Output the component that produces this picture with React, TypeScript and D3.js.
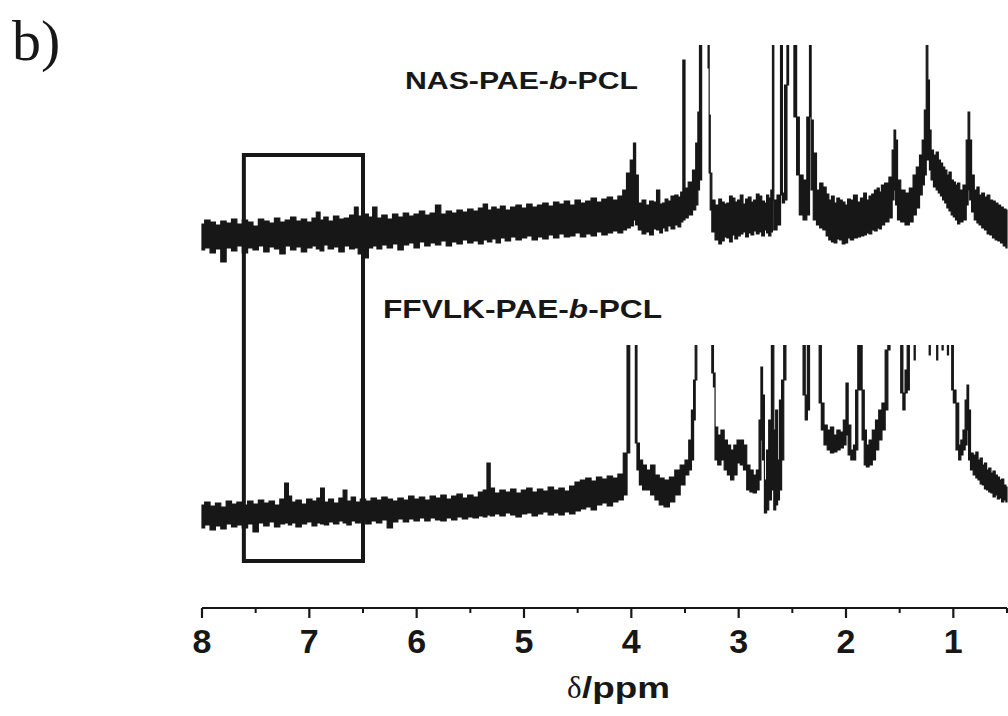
import React from 'react';
import * as d3 from 'd3';

type Pt = [number, number, number]; // [ppm, upper envelope, lower envelope] (a.u.)

// NAS-PAE-b-PCL (upper spectrum) — envelope of the noisy trace
const nasTrace: Pt[] = [
  [8.00,16,-10],[7.95,20,-8],[7.90,18,-13],[7.85,15,-9],[7.80,19,-22],[7.75,17,-8],[7.70,21,-11],[7.65,16,-6],
  [7.60,20,-13],[7.55,18,-8],[7.50,14,-10],[7.45,21,-6],[7.40,19,-12],[7.35,17,-7],[7.30,22,-9],[7.25,18,-14],
  [7.20,20,-6],[7.15,23,-10],[7.10,19,-7],[7.05,21,-12],[7.00,18,-8],[6.95,22,-6],[6.92,28,-9],[6.88,20,-11],
  [6.85,23,-5],[6.80,19,-9],[6.75,24,-7],[6.70,21,-12],[6.65,22,-6],[6.60,25,-9],[6.56,33,-8],[6.53,24,-14],
  [6.50,21,-10],[6.47,26,-18],[6.43,23,-8],[6.39,33,-6],[6.35,22,-9],[6.30,25,-5],[6.25,21,-8],[6.20,26,-4],
  [6.15,23,-10],[6.10,27,-5],[6.05,24,-3],[6.00,26,-8],[5.95,29,-2],[5.90,25,-6],[5.85,27,-3],[5.80,35,-5],
  [5.75,26,-1],[5.70,29,-6],[5.65,27,-2],[5.60,30,-4],[5.55,28,0],[5.50,31,-3],[5.45,29,-1],[5.40,32,-4],
  [5.36,36,0],[5.32,30,-2],[5.28,33,1],[5.24,31,-3],[5.20,34,2],[5.15,30,-1],[5.10,33,3],[5.05,35,0],
  [5.00,32,2],[4.95,36,4],[4.90,33,0],[4.85,35,3],[4.80,37,1],[4.75,34,5],[4.70,38,2],[4.65,36,6],
  [4.60,39,3],[4.55,35,4],[4.50,40,7],[4.45,37,3],[4.40,39,6],[4.35,42,4],[4.30,38,8],[4.25,41,5],
  [4.20,43,7],[4.15,40,9],[4.10,44,7],[4.06,50,10],[4.03,67,12],[3.99,80,14],[3.97,97,20],[3.95,65,15],
  [3.92,37,10],[3.88,40,6],[3.85,35,8],[3.81,39,5],[3.78,38,11],[3.75,50,10],[3.72,36,7],[3.70,37,12],
  [3.67,41,9],[3.65,39,14],[3.61,44,11],[3.58,45,15],[3.55,43,13],[3.53,48,18],
  [3.51,180,20],[3.49,52,22],[3.45,58,25],[3.41,70,30],[3.39,97,35],[3.37,128,50],[3.36,300,60],[3.33,300,300],
  [3.29,300,300],[3.28,300,172],[3.27,125,67],[3.26,67,30],[3.24,40,8],[3.20,35,0],[3.17,41,-4],[3.15,38,-1],
  [3.12,36,3],[3.10,37,2],[3.07,44,-2],[3.05,42,5],[3.02,38,1],[3.00,40,4],[2.97,45,6],[2.95,36,8],
  [2.92,41,3],[2.90,43,7],[2.87,38,5],[2.85,40,9],[2.82,46,6],[2.80,44,8],[2.77,39,4],[2.75,37,10],
  [2.73,45,7],[2.71,42,4],
  [2.69,50,8],[2.68,300,40],[2.665,40,10],[2.62,45,15],[2.60,300,45],[2.585,47,37],[2.56,155,40],[2.54,300,155],
  [2.53,300,300],[2.50,300,300],[2.47,300,123],[2.45,123,65],[2.42,65,25],[2.38,60,20],[2.35,123,25],[2.33,300,123],
  [2.32,120,50],[2.29,87,20],[2.26,50,15],[2.23,57,12],[2.20,53,10],[2.17,46,4],[2.15,40,0],[2.12,44,-2],
  [2.10,37,-3],[2.07,42,1],[2.05,40,0],[2.02,38,-4],[2.00,35,-3],[1.97,41,2],
  [1.95,40,0],[1.91,45,2],[1.88,38,3],[1.85,42,4],[1.82,47,5],[1.80,40,7],[1.77,44,6],[1.75,46,10],
  [1.72,50,9],[1.70,52,12],[1.68,48,11],[1.66,55,15],
  [1.62,57,18],[1.58,63,22],[1.56,90,40],[1.545,110,50],[1.53,100,35],[1.51,60,20],[1.47,50,18],[1.43,47,15],
  [1.39,52,18],[1.36,65,25],[1.33,73,32],[1.30,85,45],[1.28,100,55],[1.26,130,65],[1.245,198,80],[1.23,160,80],
  [1.215,110,70],[1.20,90,60],[1.17,85,53],[1.15,88,50],[1.13,80,47],[1.11,77,44],[1.09,73,40],[1.07,70,37],
  [1.05,65,32],[1.03,68,29],[1.01,60,25],[0.99,58,23],[0.97,55,20],[0.95,57,16],
  [0.93,50,18],[0.89,55,20],[0.87,100,35],[0.855,128,50],[0.84,100,40],[0.82,65,28],[0.79,50,20],[0.77,53,17],
  [0.75,45,15],[0.72,47,12],[0.70,43,10],[0.67,45,6],[0.65,40,5],[0.62,39,2],[0.60,37,0],[0.57,35,-1],
  [0.55,33,-3],[0.52,31,-6],[0.50,30,-8],
];

// FFVLK-PAE-b-PCL (lower spectrum)
const ffvlkTrace: Pt[] = [
  [8.00,15,-8],[7.95,18,-5],[7.90,14,-10],[7.85,17,-6],[7.80,13,-9],[7.75,19,-4],[7.70,16,-7],[7.65,18,-5],
  [7.60,15,-8],[7.55,19,-4],[7.50,16,-12],[7.45,20,-3],[7.40,17,-6],[7.35,19,-2],[7.30,15,-7],[7.25,21,-4],
  [7.21,37,-3],[7.18,24,-5],[7.15,18,-3],[7.10,20,-7],[7.05,16,-4],[7.00,21,-2],[6.95,19,-6],[6.91,22,-3],
  [6.88,32,-4],[6.84,18,-5],[6.80,21,-2],[6.75,17,-4],[6.70,22,-1],[6.67,30,-3],[6.63,19,-5],[6.59,23,-1],
  [6.55,18,-3],[6.50,21,0],[6.45,19,-4],[6.40,22,-1],[6.35,20,-3],[6.30,23,0],[6.25,21,-8],[6.20,19,-2],
  [6.15,22,1],[6.10,20,-2],[6.05,24,1],[6.00,21,-1],[5.95,23,2],[5.90,20,-1],[5.85,24,2],[5.80,22,0],
  [5.75,25,-1],[5.70,21,2],[5.65,24,0],[5.60,26,3],[5.55,22,1],[5.50,25,3],[5.45,23,2],[5.40,28,4],
  [5.36,30,3],[5.33,57,5],[5.30,32,4],[5.25,27,6],[5.20,30,4],[5.15,28,7],[5.10,31,5],[5.05,27,3],
  [5.00,30,6],[4.95,32,7],[4.90,28,4],[4.85,31,6],[4.80,29,8],[4.75,33,5],[4.70,30,7],[4.65,32,5],
  [4.60,29,8],[4.55,34,6],[4.50,38,9],[4.45,40,11],[4.40,42,13],[4.35,39,10],[4.30,43,15],[4.25,41,17],
  [4.20,44,14],[4.15,42,18],[4.10,46,20],[4.05,67,25],[4.03,300,67],[4.00,300,300],
  [3.97,300,300],[3.955,300,77],[3.94,77,50],[3.91,60,35],[3.88,55,30],[3.84,50,30],[3.80,55,25],[3.76,45,20],
  [3.72,42,15],[3.67,40,13],[3.62,43,18],[3.57,50,25],[3.52,55,35],[3.48,60,45],[3.45,80,50],[3.43,110,60],
  [3.41,140,100],[3.40,300,140],[3.38,300,300],[3.26,300,300],[3.24,300,147],[3.23,147,133],[3.21,93,60],[3.18,85,55],
  [3.15,90,60],[3.12,80,50],[3.09,75,45],[3.06,70,40],[3.03,75,45],[3.00,80,57],[2.97,80,55],[2.94,75,50],
  [2.91,55,30],[2.88,50,28],[2.85,45,27],[2.82,50,30],[2.80,100,40],[2.785,153,80],[2.77,125,60],[2.75,40,7],
  [2.73,70,10],[2.71,100,20],[2.68,300,30],[2.665,90,10],[2.645,110,15],[2.63,60,20],[2.61,120,30],[2.59,140,60],
  [2.57,300,140],[2.55,300,300],[2.41,300,300],[2.39,300,125],[2.37,125,100],[2.35,300,110],[2.33,300,300],[2.26,300,300],
  [2.24,300,117],[2.22,117,90],[2.19,95,75],[2.16,90,70],[2.13,93,67],[2.10,85,68],[2.07,90,70],[2.04,88,72],
  [2.01,100,75],[1.99,137,85],[1.97,95,65],[1.94,70,60],[1.92,75,60],[1.90,130,70],[1.88,300,130],[1.86,300,130],
  [1.84,130,80],[1.82,90,55],[1.80,75,53],[1.77,80,55],[1.74,90,60],[1.71,100,70],[1.68,110,80],[1.65,117,90],
  [1.62,170,110],[1.60,300,170],[1.58,300,300],[1.50,300,300],[1.48,300,127],[1.46,127,110],[1.44,150,127],[1.42,300,130],
  [1.40,300,300],[1.37,300,300],[1.36,300,160],[1.35,300,300],[1.23,300,300],[1.22,300,165],[1.21,300,300],[1.16,300,300],
  [1.15,300,160],[1.14,300,300],[1.11,300,300],[1.10,300,170],[1.09,300,300],[1.06,300,300],[1.05,300,165],[1.04,300,300],
  [1.02,300,300],[1.01,300,130],[0.99,130,117],[0.96,117,70],[0.94,75,60],[0.92,80,65],[0.90,90,70],[0.88,120,75],
  [0.865,135,90],[0.85,110,60],[0.83,67,50],[0.80,65,45],[0.78,68,42],[0.76,60,40],[0.74,62,36],[0.72,55,35],
  [0.70,57,31],[0.68,50,30],[0.66,52,28],[0.64,47,27],[0.62,49,23],[0.60,45,25],[0.58,43,21],[0.56,40,22],
  [0.54,41,18],[0.52,35,20],[0.50,33,18],
];

const majorTicks = [8, 7, 6, 5, 4, 3, 2, 1];
const minorTicks = [7.5, 6.5, 5.5, 4.5, 3.5, 2.5, 1.5, 0.5];
const xDomain: [number, number] = [8, 0.5];
const highlightRange: [number, number] = [7.61, 6.5];

const INK = '#171717';

export default function App() {
  const W = 1008;
  const H = 716;
  const x = d3.scaleLinear().domain(xDomain).range([202, 1007]);
  const yTop = d3.scaleLinear().domain([0, 100]).range([240, 140]);
  const yBot = d3.scaleLinear().domain([0, 100]).range([520, 420]);
  const mk = (y: d3.ScaleLinear<number, number>) =>
    d3.area<Pt>().x((d) => x(d[0])).y0((d) => y(d[2])).y1((d) => y(d[1])).curve(d3.curveStep);
  const topPath = mk(yTop)(nasTrace) || '';
  const botPath = mk(yBot)(ffvlkTrace) || '';
  const axisY = 608;

  return (
    <svg width={W} height={H} style={{ position: 'absolute', left: 0, top: 0, background: '#fff' }}>
      <defs>
        <clipPath id="clipTop"><rect x={0} y={45} width={W} height={300} /></clipPath>
        <clipPath id="clipBot"><rect x={0} y={345} width={W} height={300} /></clipPath>
      </defs>
      <text x={12} y={60} fontFamily="'Liberation Serif', 'Times New Roman', serif" fontSize={58} fill={INK}>b)</text>

      <text x={405} y={89} fontFamily="'Liberation Sans', Arial, sans-serif" fontWeight="bold" fontSize={24}
        textLength={233} lengthAdjust="spacingAndGlyphs" fill={INK}>
        NAS-PAE-<tspan fontStyle="italic">b</tspan>-PCL
      </text>
      <text x={383} y={318} fontFamily="'Liberation Sans', Arial, sans-serif" fontWeight="bold" fontSize={25}
        textLength={279} lengthAdjust="spacingAndGlyphs" fill={INK}>
        FFVLK-PAE-<tspan fontStyle="italic">b</tspan>-PCL
      </text>

      <g clipPath="url(#clipTop)">
        <path d={topPath} fill={INK} stroke={INK} strokeWidth={1.2} strokeLinejoin="miter" />
      </g>
      <g clipPath="url(#clipBot)">
        <path d={botPath} fill={INK} stroke={INK} strokeWidth={1.2} strokeLinejoin="miter" />
      </g>

      <rect x={x(highlightRange[0])} y={155} width={x(highlightRange[1]) - x(highlightRange[0])} height={406}
        fill="none" stroke={INK} strokeWidth={4} />

      <g>
        <line x1={x(xDomain[0])} x2={x(xDomain[1])} y1={axisY} y2={axisY} stroke={INK} strokeWidth={2.2} />
        {majorTicks.map((t) => (
          <g key={'M' + t}>
            <line x1={x(t)} x2={x(t)} y1={axisY} y2={axisY + 10} stroke={INK} strokeWidth={2.2} />
            <text x={x(t)} y={653} textAnchor="middle" fontFamily="'Liberation Sans', Arial, sans-serif"
              fontWeight="bold" fontSize={34} fill={INK}>{t}</text>
          </g>
        ))}
        {minorTicks.map((t) => (
          <line key={'m' + t} x1={x(t)} x2={x(t)} y1={axisY} y2={axisY + 5} stroke={INK} strokeWidth={2} />
        ))}
        <text x={567} y={698} fontFamily="'Liberation Serif', 'Times New Roman', serif" fontSize={31} fill={INK}>δ</text>
        <text x={582} y={698} fontFamily="'Liberation Sans', Arial, sans-serif" fontWeight="bold" fontSize={30}
          textLength={88} lengthAdjust="spacingAndGlyphs" fill={INK}>/ppm</text>
      </g>
    </svg>
  );
}
